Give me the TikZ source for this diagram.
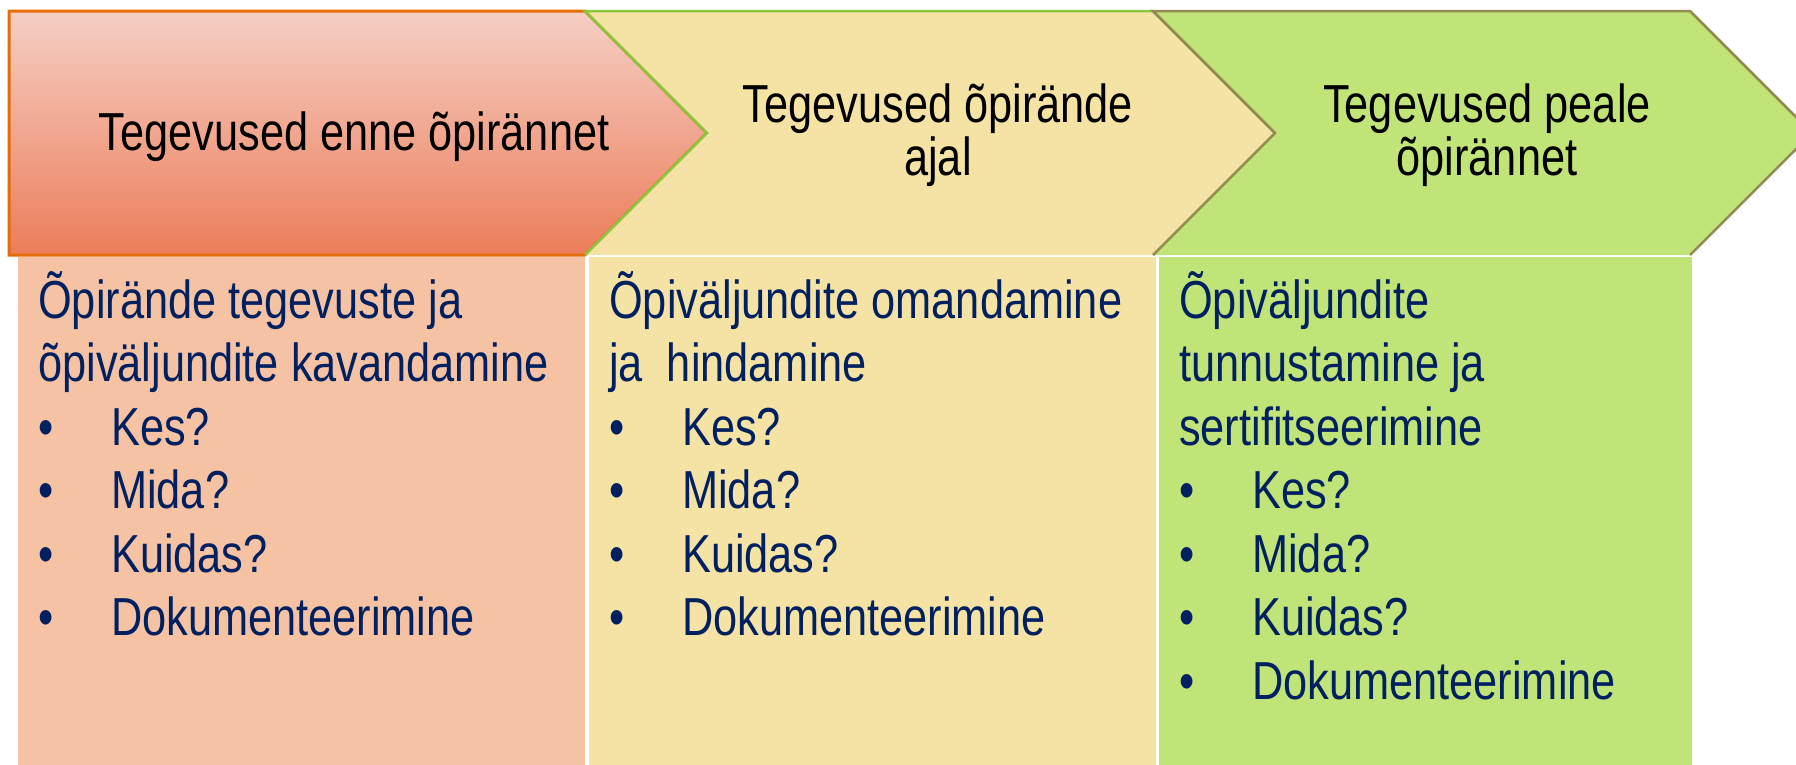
\documentclass[tikz,border=0pt]{standalone}
\usepackage{fontspec}
\newfontfamily\pptfont[FakeStretch=0.81]{Liberation Sans}
\definecolor{orline}{RGB}{228,108,10}
\definecolor{ortop}{RGB}{245,207,196}
\definecolor{orbot}{RGB}{236,125,90}
\definecolor{yelfill}{RGB}{245,226,165}
\definecolor{yelline}{RGB}{140,198,63}
\definecolor{grfill}{RGB}{192,228,120}
\definecolor{grline}{RGB}{148,138,84}
\definecolor{peach}{RGB}{245,194,164}
\definecolor{navy}{RGB}{0,32,96}
\newcommand\bulit{\makebox[73pt][l]{•}}
\begin{document}
\begin{tikzpicture}[x=1pt,y=-1pt,
  head/.style={font=\pptfont\fontsize{53.5}{53}\selectfont, text=black, inner sep=0pt, anchor=base},
  body/.style={font=\pptfont\fontsize{53.5}{63.5}\selectfont, text=navy, inner sep=0pt, anchor=base west}]
\useasboundingbox (0,0) rectangle (1796,764);
\clip (0,0) rectangle (1796,764);
\fill[white] (0,0) rectangle (1796,764);
% chevrons
\path[top color=ortop, bottom color=orbot, draw=orline, line width=3pt]
  (9,11) -- (585,11) -- (707,133) -- (585,255) -- (9,255) -- cycle;
\fill[yelfill] (585,11) -- (1153,11) -- (1275,133) -- (1153,255) -- (585,255) -- (707,133) -- cycle;
\draw[yelline, line width=2.5pt, line join=miter]
  (585,255) -- (707,133) -- (585,11) -- (1153,11) -- (1275,133) -- (1153,255);
\fill[grfill] (1153,11) -- (1690,11) -- (1812,133) -- (1690,255) -- (1153,255) -- (1275,133) -- cycle;
\draw[grline, line width=2.5pt, line join=miter]
  (1153,255) -- (1275,133) -- (1153,11) -- (1690,11) -- (1812,133) -- (1690,255);
% boxes
\fill[peach] (18,257) rectangle (585,770);
\fill[yelfill] (589,257) rectangle (1156,770);
\fill[grfill] (1159,257) rectangle (1692,770);
% headers
\node[head] (h1) at (354,150) {Tegevused enne õpirännet};
\node[head] (h2a) at (938,122) {Tegevused õpirände};
\node[head] (h2b) at (938,175) {ajal};
\node[head] (h3a) at (1487,122) {Tegevused peale};
\node[head] (h3b) at (1487,175) {õpirännet};
% body texts
\foreach \t [count=\i] in {Õpirände tegevuste ja, õpiväljundite kavandamine, \bulit Kes?, \bulit Mida?, \bulit Kuidas?, \bulit Dokumenteerimine}
  \node[body] (a\i) at (38,{318+63.5*(\i-1)}) {\t};
\foreach \t [count=\i] in {Õpiväljundite omandamine, ja~~hindamine, \bulit Kes?, \bulit Mida?, \bulit Kuidas?, \bulit Dokumenteerimine}
  \node[body] (b\i) at (609,{318+63.5*(\i-1)}) {\t};
\foreach \t [count=\i] in {Õpiväljundite, tunnustamine ja, sertifitseerimine, \bulit Kes?, \bulit Mida?, \bulit Kuidas?, \bulit Dokumenteerimine}
  \node[body] (c\i) at (1179,{318+63.5*(\i-1)}) {\t};
\end{tikzpicture}
\end{document}
